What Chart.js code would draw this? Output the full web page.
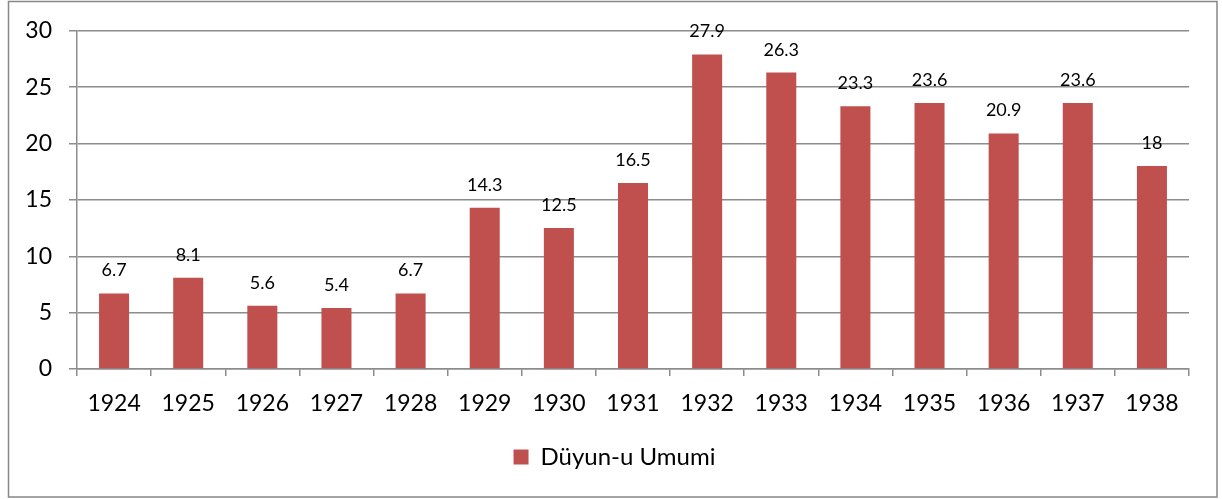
<!DOCTYPE html>
<html>
<head>
<meta charset="utf-8">
<script src="https://cdn.jsdelivr.net/npm/chart.js@4/dist/chart.umd.min.js"></script>
<style>
html,body{margin:0;padding:0;background:#fff;}
#wrap{position:absolute;left:0;top:0;width:1222px;height:499px;}
</style>
</head>
<body>
<div id="wrap"><canvas id="c" width="1222" height="499"></canvas></div>
<script>
const years = ["1924","1925","1926","1927","1928","1929","1930","1931","1932","1933","1934","1935","1936","1937","1938"];
const debt = [6.7, 8.1, 5.6, 5.4, 6.7, 14.3, 12.5, 16.5, 27.9, 26.3, 23.3, 23.6, 20.9, 23.6, 18];
const seriesName = "Düyun-u Umumi";
const yTicks = [0, 5, 10, 15, 20, 25, 30];

const FONT = "Lato, 'Open Sans', sans-serif";
const GRID = "#8c8c8c";

const frame = {
  id: "frame",
  beforeDraw(chart) {
    const ctx = chart.ctx;
    ctx.save();
    ctx.fillStyle = "#fff";
    ctx.fillRect(0, 0, chart.width, chart.height);
    ctx.strokeStyle = "#878787";
    ctx.lineWidth = 1.5;
    ctx.strokeRect(8.5, 1.5, 1208.5, 495.5);
    ctx.restore();
  }
};

// center the legend on the whole framed area instead of the padded area
const legendCenter = {
  id: "legendCenter",
  afterLayout(chart) {
    if (chart.legend) {
      chart.legend.left += 20;
      chart.legend.right += 20;
    }
  }
};

const valueLabels = {
  id: "valueLabels",
  afterDatasetsDraw(chart) {
    const ctx = chart.ctx;
    const meta = chart.getDatasetMeta(0);
    ctx.save();
    ctx.font = "18px " + FONT;
    ctx.fillStyle = "#000";
    ctx.textAlign = "center";
    ctx.textBaseline = "alphabetic";
    meta.data.forEach((bar, i) => {
      ctx.fillText(String(chart.data.datasets[0].data[i]), bar.x, bar.y - 17);
    });
    ctx.restore();
  }
};

new Chart(document.getElementById("c"), {
  type: "bar",
  data: {
    labels: years,
    datasets: [{
      label: seriesName,
      data: debt,
      backgroundColor: "#C0504D",
      borderWidth: 0,
      barPercentage: 0.405,
      categoryPercentage: 1.0
    }]
  },
  options: {
    responsive: false,
    animation: false,
    devicePixelRatio: 1,
    layout: { padding: { top: 30, right: 33, bottom: 20, left: 0 } },
    plugins: {
      legend: {
        position: "bottom",
        labels: {
          font: { family: FONT, size: 24 },
          color: "#000",
          boxWidth: 15,
          boxHeight: 15,
          padding: 10
        }
      },
      tooltip: { enabled: false }
    },
    scales: {
      x: {
        grid: {
          display: true,
          drawOnChartArea: false,
          drawTicks: true,
          tickLength: 7,
          color: GRID,
          lineWidth: 1.5,
          offset: true
        },
        border: { display: true, color: GRID, width: 1.5 },
        ticks: {
          font: { family: FONT, size: 23 },
          color: "#000",
          padding: 14,
          maxRotation: 0,
          autoSkip: false
        },
        afterFit(scale) { scale.height = 66; }
      },
      y: {
        min: 0,
        max: 30,
        afterBuildTicks(scale) { scale.ticks = yTicks.map(v => ({ value: v })); },
        grid: {
          color: GRID,
          lineWidth: 1.5,
          tickLength: 8
        },
        border: { display: true, color: GRID, width: 1.5 },
        ticks: {
          font: { family: FONT, size: 23 },
          color: "#000",
          padding: 17
        },
        afterFit(scale) { scale.width = 77; }
      }
    }
  },
  plugins: [frame, legendCenter, valueLabels]
});
</script>
</body>
</html>
